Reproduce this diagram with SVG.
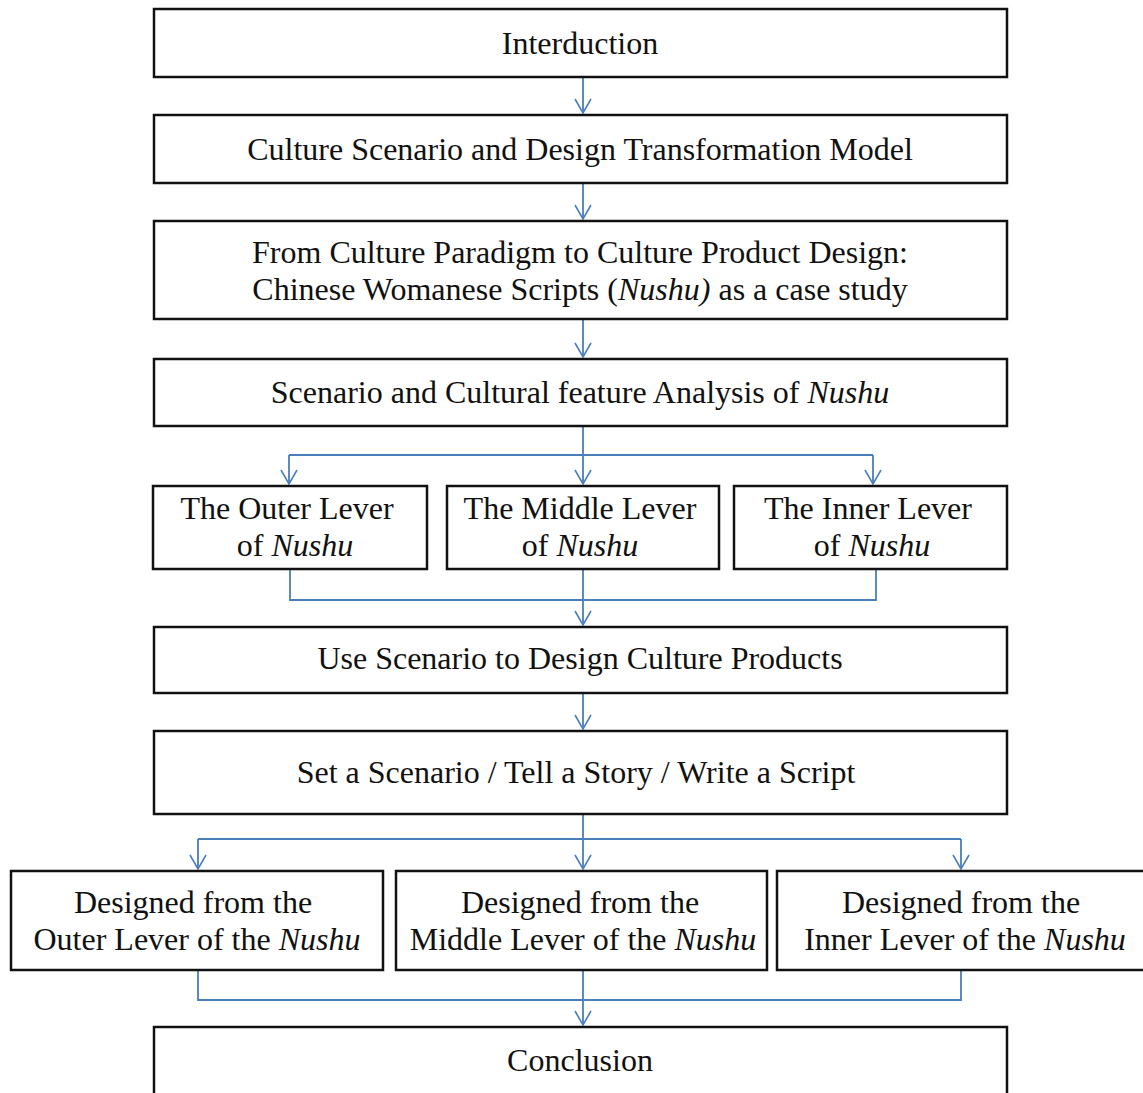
<svg xmlns="http://www.w3.org/2000/svg" width="1143" height="1093" viewBox="0 0 1143 1093">
<defs>
<marker id="ah" markerWidth="20" markerHeight="20" refX="17" refY="10" orient="auto" markerUnits="userSpaceOnUse" viewBox="0 0 20 20">
<path d="M3,2 L17,10 L3,18" fill="none" stroke="#4a7ebb" stroke-width="1.6"/>
</marker>
<style>
.box{fill:#fff;stroke:#111;stroke-width:2.5}
.t{font-family:"Liberation Serif","Times New Roman",serif;font-size:32px;fill:#111;text-anchor:middle}
.c{fill:none;stroke:#4a7ebb;stroke-width:1.8}
.a{fill:none;stroke:#4a7ebb;stroke-width:1.8;marker-end:url(#ah)}
</style>
</defs>
<rect width="1143" height="1093" fill="#fff"/>
<g id="connectors">
<path class="a" d="M583,78 V113"/>
<path class="a" d="M583,184 V219"/>
<path class="a" d="M583,320 V357"/>
<path class="a" d="M583,427 V484"/>
<path class="c" d="M289,455 H873"/>
<path class="a" d="M289,455 V484"/>
<path class="a" d="M873,455 V484"/>
<path class="c" d="M290,570 V600 H876 V570"/>
<path class="c" d="M583,570 V600"/>
<path class="a" d="M583,600 V625"/>
<path class="a" d="M583,694 V729"/>
<path class="a" d="M583,815 V869"/>
<path class="c" d="M198,839 H961"/>
<path class="a" d="M198,839 V869"/>
<path class="a" d="M961,839 V869"/>
<path class="c" d="M198,971 V1000 H961 V971"/>
<path class="c" d="M583,971 V1000"/>
<path class="a" d="M583,1000 V1025"/>
</g>
<g id="n1"><rect class="box" x="154" y="9" width="853" height="68"/><text class="t" x="580" y="54">Interduction</text></g>
<g id="n2"><rect class="box" x="154" y="115" width="853" height="68"/><text class="t" x="580" y="160">Culture Scenario and Design Transformation Model</text></g>
<g id="n3"><rect class="box" x="154" y="221" width="853" height="98"/><text class="t" x="580" y="263">From Culture Paradigm to Culture Product Design:</text><text class="t" x="580" y="300">Chinese Womanese Scripts (<tspan font-style="italic">Nushu)</tspan> as a case study</text></g>
<g id="n4"><rect class="box" x="154" y="359" width="853" height="67"/><text class="t" x="580" y="403">Scenario and Cultural feature Analysis of <tspan font-style="italic">Nushu</tspan></text></g>
<g id="n5"><rect class="box" x="153" y="486" width="274" height="83"/><text class="t" x="287" y="519">The Outer Lever</text><text class="t" x="295" y="556">of  <tspan font-style="italic">Nushu</tspan></text></g>
<g id="n6"><rect class="box" x="447" y="486" width="272" height="83"/><text class="t" x="580" y="519">The Middle Lever</text><text class="t" x="580" y="556">of  <tspan font-style="italic">Nushu</tspan></text></g>
<g id="n7"><rect class="box" x="734" y="486" width="273" height="83"/><text class="t" x="868" y="519">The Inner Lever</text><text class="t" x="872" y="556">of  <tspan font-style="italic">Nushu</tspan></text></g>
<g id="n8"><rect class="box" x="154" y="627" width="853" height="66"/><text class="t" x="580" y="669">Use Scenario to Design Culture Products</text></g>
<g id="n9"><rect class="box" x="154" y="731" width="853" height="83"/><text class="t" x="576" y="783">Set a Scenario / Tell a Story / Write a Script</text></g>
<g id="n10"><rect class="box" x="11" y="871" width="372" height="99"/><text class="t" x="193" y="913">Designed from the</text><text class="t" x="197" y="950">Outer Lever of the <tspan font-style="italic">Nushu</tspan></text></g>
<g id="n11"><rect class="box" x="396" y="871" width="371" height="99"/><text class="t" x="580" y="913">Designed from the</text><text class="t" x="583" y="950">Middle Lever of the <tspan font-style="italic">Nushu</tspan></text></g>
<g id="n12"><rect class="box" x="777" y="871" width="380" height="99"/><text class="t" x="961" y="913">Designed from the</text><text class="t" x="965" y="950">Inner Lever of the <tspan font-style="italic">Nushu</tspan></text></g>
<g id="n13"><rect class="box" x="154" y="1027" width="853" height="80"/><text class="t" x="580" y="1071">Conclusion</text></g>
</svg>
